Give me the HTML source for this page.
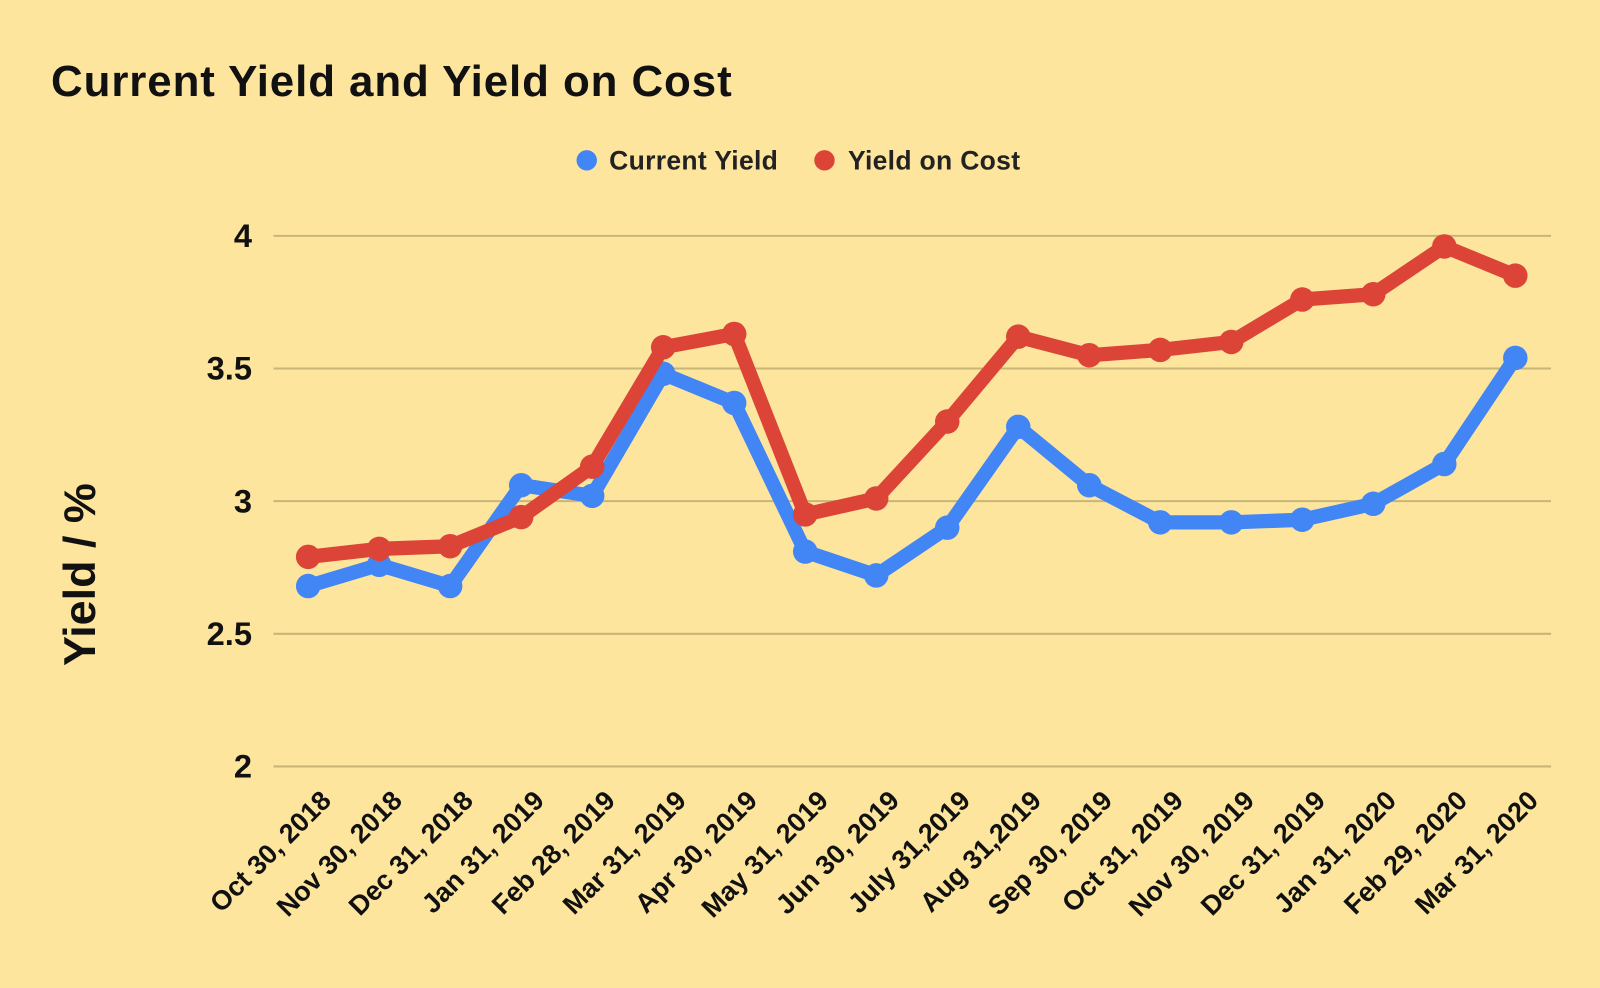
<!DOCTYPE html>
<html><head><meta charset="utf-8"><style>
html,body{margin:0;padding:0;background:#fde59d;}
svg{display:block;font-family:"Liberation Sans",sans-serif;font-weight:bold;}
</style></head><body>
<svg id="chart" width="1600" height="988" viewBox="0 0 1568 968" xmlns="http://www.w3.org/2000/svg">
<rect width="1568" height="968" fill="#fde59d"/>
<text x="50" y="94" font-size="43" letter-spacing="0.9" fill="#111">Current Yield and Yield on Cost</text>
<g>
<circle cx="575" cy="157" r="10" fill="#4285f4"/>
<text x="597" y="166" font-size="26" letter-spacing="0.3" fill="#222">Current Yield</text>
<circle cx="808" cy="157" r="10" fill="#db4437"/>
<text x="831" y="166" font-size="26" letter-spacing="0.3" fill="#222">Yield on Cost</text>
</g>
<text transform="translate(93,563) rotate(-90)" text-anchor="middle" font-size="44" fill="#111">Yield / %</text>
<g id="grid"></g><g id="ylabels"></g><g id="xlabels"></g><g id="series"></g>
</svg>
<script>
const categories=["Oct 30, 2018","Nov 30, 2018","Dec 31, 2018","Jan 31, 2019","Feb 28, 2019","Mar 31, 2019","Apr 30, 2019","May 31, 2019","Jun 30, 2019","July 31,2019","Aug 31,2019","Sep 30, 2019","Oct 31, 2019","Nov 30, 2019","Dec 31, 2019","Jan 31, 2020","Feb 29, 2020","Mar 31, 2020"];
const currentYield=[2.68,2.76,2.68,3.06,3.02,3.48,3.37,2.81,2.72,2.90,3.28,3.06,2.92,2.92,2.93,2.99,3.14,3.54];
const yieldOnCost=[2.79,2.82,2.83,2.94,3.13,3.58,3.63,2.95,3.01,3.30,3.62,3.55,3.57,3.60,3.76,3.78,3.96,3.85];
const yTicks=[2,2.5,3,3.5,4];
const yTickLabels=["2","2.5","3","3.5","4"];
const NS="http://www.w3.org/2000/svg";
function y(v){return 751-(v-2)*260;}
function x(i){return 302+i*(1485-302)/(categories.length-1);}
function mk(tag,attrs,parent){const e=document.createElementNS(NS,tag);for(const k in attrs)e.setAttribute(k,attrs[k]);document.getElementById(parent).appendChild(e);return e;}
yTicks.forEach((t,i)=>{
  const l=mk('line',{x1:268,x2:1520,y1:y(t),y2:y(t),stroke:'#c8b677','stroke-width':2},'grid');
  
  
  const tx=mk('text',{x:247,y:y(t)+11,'text-anchor':'end','font-size':32,fill:'#111'},'ylabels');
  tx.textContent=yTickLabels[i];
  
  
});
categories.forEach((c,i)=>{
  const tx=mk('text',{transform:`translate(${x(i)+24},${786}) rotate(-45)`,'text-anchor':'end','font-size':26.5,fill:'#111'},'xlabels');
  tx.textContent=c;
  
  
});
function drawSeries(vals,color,name){
  const p=mk('polyline',{points:vals.map((v,i)=>x(i)+','+y(v)).join(' '),fill:'none',stroke:color,'stroke-width':14,'stroke-linejoin':'round'},'series');
  
  
  vals.forEach((v,i)=>{
    const c=mk('circle',{cx:x(i),cy:y(v),r:12,fill:color},'series');
    
    
  });
}
drawSeries(currentYield,'#4285f4','current-yield');
drawSeries(yieldOnCost,'#db4437','yield-on-cost');
</script>
</body></html>
